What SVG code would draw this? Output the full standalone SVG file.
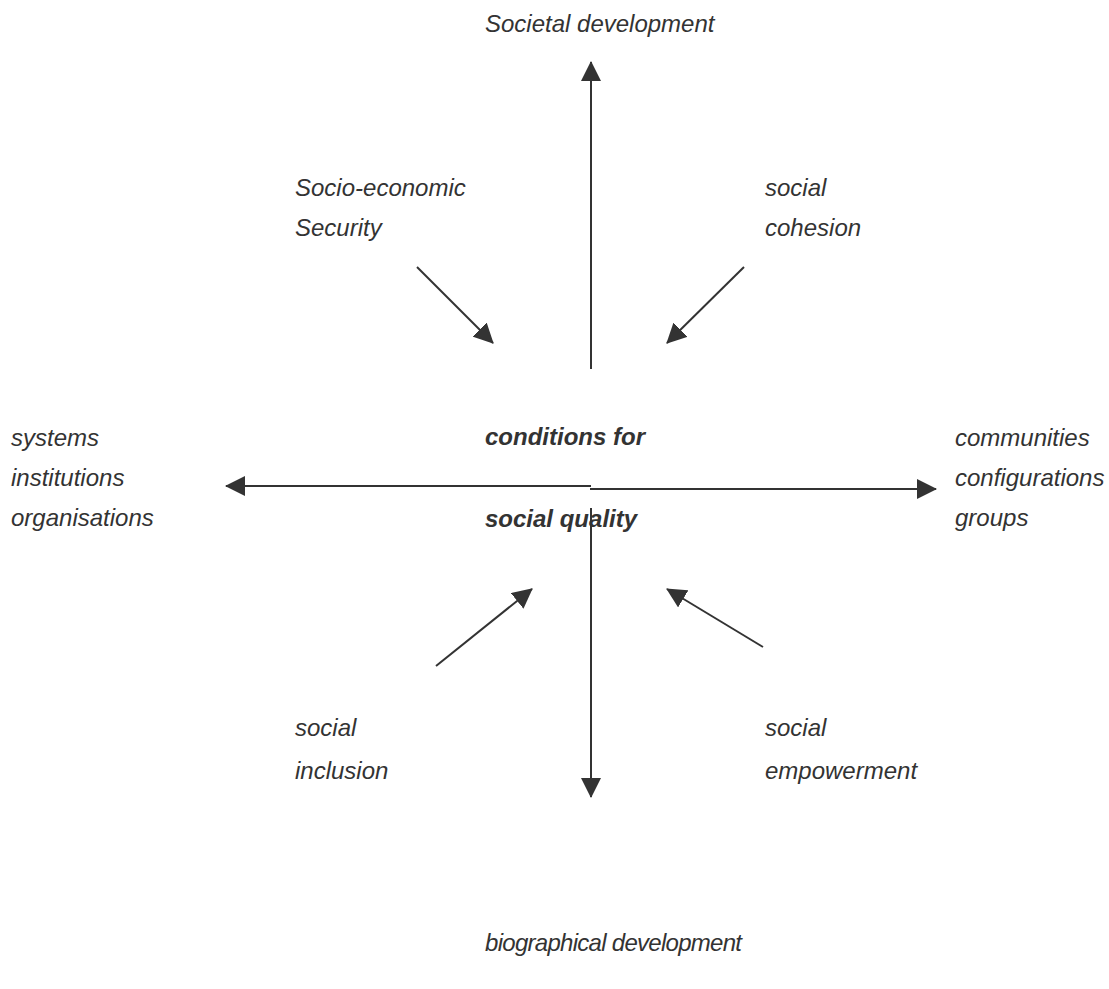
<svg xmlns="http://www.w3.org/2000/svg" width="1109" height="989" viewBox="0 0 1109 989">
<defs>
<marker id="ah" viewBox="0 0 20 20" refX="19" refY="10" markerWidth="20" markerHeight="20" markerUnits="userSpaceOnUse" orient="auto">
<path d="M0,0 L20,10 L0,20 z" fill="#333333"/>
</marker>
<style>
.t{font-family:"Liberation Sans",Arial,sans-serif;font-size:24px;font-style:italic;fill:#333333}
.b{font-weight:bold}
.c{stroke:#333333;stroke-width:2;fill:none}
.a{marker-end:url(#ah)}
</style>
</defs>
<rect width="1109" height="989" fill="#ffffff"/>
<g id="connectors">
<line class="c a" x1="591" y1="369" x2="591" y2="62"/>
<line class="c a" x1="417" y1="267" x2="493" y2="343"/>
<line class="c a" x1="744" y1="267" x2="667" y2="343"/>
<line class="c a" x1="591" y1="486" x2="226" y2="486"/>
<line class="c a" x1="590" y1="489" x2="936" y2="489"/>
<line class="c a" x1="591" y1="508" x2="591" y2="797"/>
<line class="c a" x1="436" y1="666" x2="532" y2="589"/>
<line class="c a" x1="763" y1="647" x2="667" y2="589"/>
</g>
<g id="societal"><text class="t" x="485" y="32">Societal development</text></g>
<g id="security"><text class="t" x="295" y="196">Socio-economic</text><text class="t" x="295" y="236">Security</text></g>
<g id="cohesion"><text class="t" x="765" y="196">social</text><text class="t" x="765" y="236">cohesion</text></g>
<g id="systems"><text class="t" x="11" y="446">systems</text><text class="t" x="11" y="486">institutions</text><text class="t" x="11" y="526">organisations</text></g>
<g id="center"><text class="t b" x="485" y="445">conditions for</text><text class="t b" x="485" y="527">social quality</text></g>
<g id="communities"><text class="t" x="955" y="446">communities</text><text class="t" x="955" y="486">configurations</text><text class="t" x="955" y="526">groups</text></g>
<g id="inclusion"><text class="t" x="295" y="736">social</text><text class="t" x="295" y="779">inclusion</text></g>
<g id="empowerment"><text class="t" x="765" y="736">social</text><text class="t" x="765" y="779">empowerment</text></g>
<g id="biographical"><text class="t" x="485" y="951" textLength="257" lengthAdjust="spacing">biographical development</text></g>
</svg>
